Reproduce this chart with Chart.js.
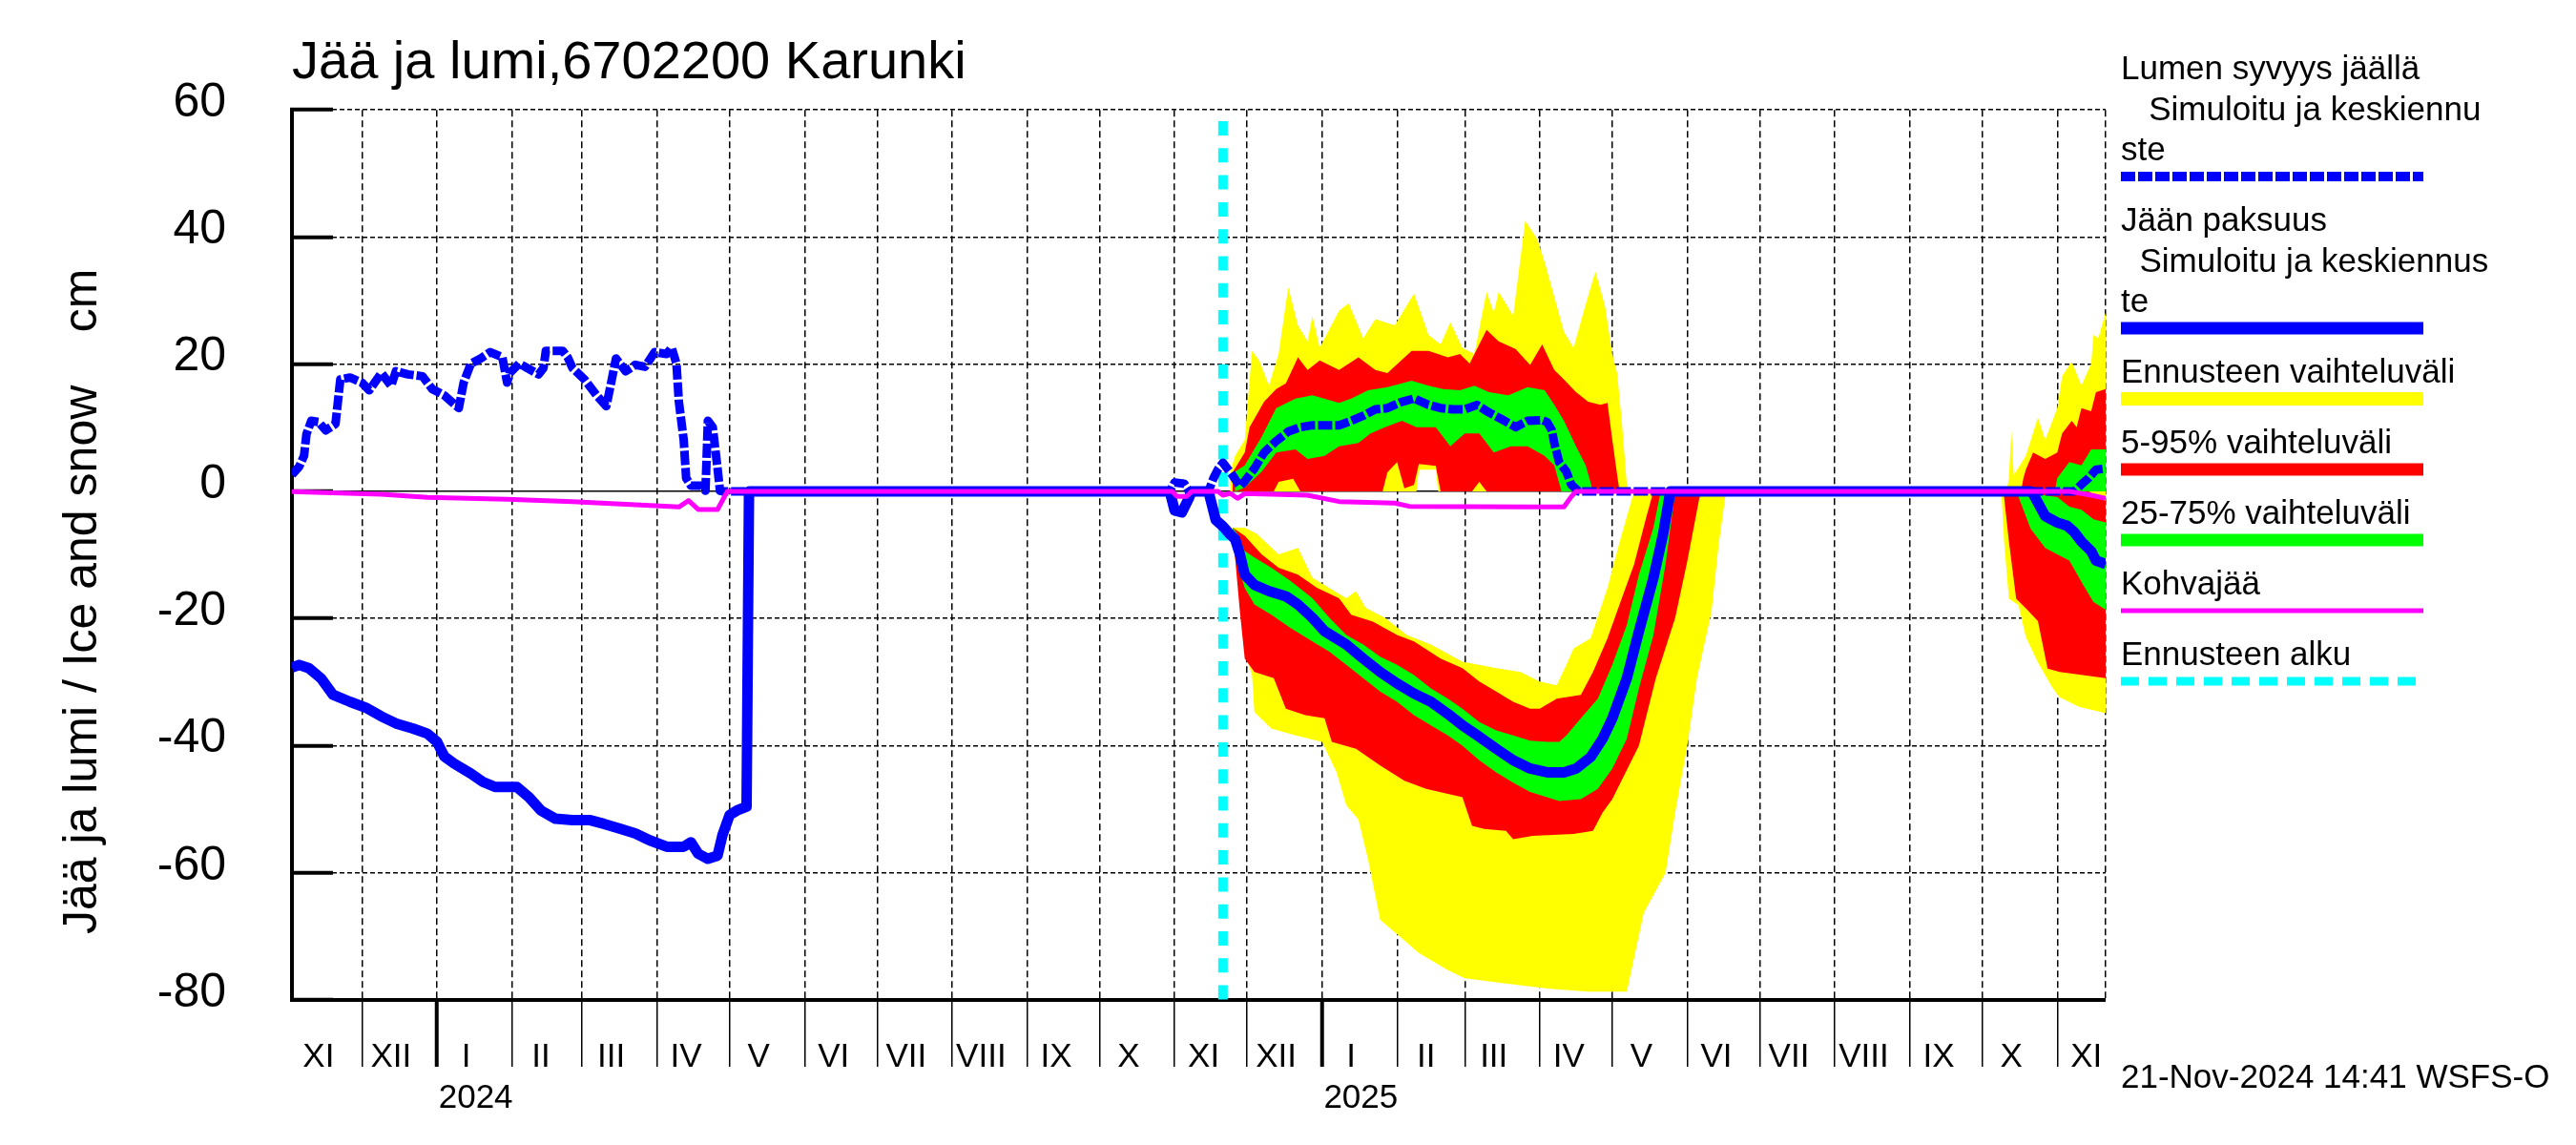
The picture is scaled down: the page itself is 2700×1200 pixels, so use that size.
<!DOCTYPE html>
<html lang="fi">
<head>
<meta charset="utf-8">
<title>Jää ja lumi, 6702200 Karunki</title>
<script src="https://cdn.jsdelivr.net/npm/chart.js@4.4.1/dist/chart.umd.min.js"></script>
<style>
html,body{margin:0;padding:0;background:#ffffff;overflow:hidden;}
#wrap{position:relative;width:2700px;height:1200px;background:#fff;}
canvas{display:block;}
</style>
</head>
<body>
<div id="wrap"><canvas id="chart" width="2700" height="1200" style="width:2700px;height:1200px"></canvas></div>
<script>
// ---------------- DATA ----------------
const titleText = 'Jää ja lumi,6702200 Karunki';
const yTitleText = 'Jää ja lumi / Ice and snow    cm';
const stampText = '21-Nov-2024 14:41 WSFS-O';
const xStart = '2023-11-02';
const xEnd = '2025-11-21';
const forecastStart = '2024-11-21';
const yTicks = [-80, -60, -40, -20, 0, 20, 40, 60];

const monthLabels = ['XI','XII','I','II','III','IV','V','VI','VII','VIII','IX','X','XI',
                     'XII','I','II','III','IV','V','VI','VII','VIII','IX','X','XI'];
const monthStarts = ['2023-11-01','2023-12-01','2024-01-01','2024-02-01','2024-03-01','2024-04-01','2024-05-01',
  '2024-06-01','2024-07-01','2024-08-01','2024-09-01','2024-10-01','2024-11-01','2024-12-01','2025-01-01',
  '2025-02-01','2025-03-01','2025-04-01','2025-05-01','2025-06-01','2025-07-01','2025-08-01','2025-09-01',
  '2025-10-01','2025-11-01'];
const yearLabels = ['2024', '2025'];
const yearLabelDates = ['2024-01-17', '2025-01-17'];

const legendTexts = [
  ['Lumen syvyys jäällä', '   Simuloitu ja keskiennu', 'ste'],
  ['Jään paksuus', '  Simuloitu ja keskiennus', 'te'],
  ['Ennusteen vaihteluväli'],
  ['5-95% vaihteluväli'],
  ['25-75% vaihteluväli'],
  ['Kohvajää'],
  ['Ennusteen alku']
];

// Snow depth on ice (simulated + median forecast)
const snowDates = ['2023-11-02','2023-11-05','2023-11-07','2023-11-08','2023-11-10','2023-11-13','2023-11-16','2023-11-20','2023-11-22','2023-11-26',
'2023-12-01','2023-12-04','2023-12-09','2023-12-13','2023-12-15','2023-12-20','2023-12-26','2023-12-30',
'2024-01-04','2024-01-10','2024-01-12','2024-01-15','2024-01-19','2024-01-23','2024-01-28','2024-01-30','2024-01-31',
'2024-02-04','2024-02-12','2024-02-14','2024-02-15','2024-02-22','2024-02-24','2024-02-26',
'2024-03-02','2024-03-07','2024-03-11','2024-03-13','2024-03-15','2024-03-19','2024-03-23','2024-03-27','2024-03-31',
'2024-04-05','2024-04-07','2024-04-09','2024-04-10','2024-04-12','2024-04-13','2024-04-15','2024-04-19','2024-04-21','2024-04-22','2024-04-24','2024-04-26','2024-04-27','2024-04-28',
'2024-10-30','2024-11-01','2024-11-05','2024-11-07','2024-11-15','2024-11-17','2024-11-19','2024-11-21','2024-11-23','2024-11-25','2024-11-28',
'2024-11-30','2024-12-04','2024-12-08','2024-12-13','2024-12-18','2024-12-23','2024-12-28',
'2025-01-02','2025-01-08','2025-01-13','2025-01-18','2025-01-23','2025-01-28',
'2025-02-03','2025-02-08','2025-02-14','2025-02-19','2025-02-24',
'2025-03-01','2025-03-06','2025-03-11','2025-03-16','2025-03-22','2025-03-27',
'2025-04-02','2025-04-04','2025-04-06','2025-04-07','2025-04-09','2025-04-12','2025-04-14','2025-04-17',
'2025-11-08','2025-11-11','2025-11-14','2025-11-17','2025-11-21'];
const snowDepth = [2.6,3.9,5.6,9.0,11.1,10.9,9.6,10.6,17.6,17.9,
17.1,15.9,18.6,16.6,18.9,18.4,18.1,16.1,
15.1,13.1,17.1,20.1,20.9,21.9,21.1,17.1,18.6,
20.1,18.4,19.4,22.1,22.1,21.1,19.4,
17.6,15.1,13.4,17.1,20.9,18.9,19.9,19.6,21.9,
21.6,22.6,20.1,14.1,8.1,2.1,0.9,0.9,0.1,11.1,10.1,3.6,0.1,0,
0,1.4,1.2,0,0,2.0,3.5,4.5,3.5,2.5,0.8,
1.6,3.6,6.1,7.9,9.4,10.1,10.4,
10.4,10.4,11.1,11.9,12.9,13.1,
14.1,14.6,13.6,13.1,12.9,
12.9,13.6,12.4,11.4,10.1,11.1,
11.2,10.9,9.6,7.6,4.6,3.1,1.1,0,
0,1.1,2.1,3.4,3.6];

// Ice thickness (plotted negative)
const iceDates = ['2023-11-02','2023-11-05','2023-11-09','2023-11-14','2023-11-19','2023-11-26',
'2023-12-03','2023-12-09','2023-12-15','2023-12-22','2023-12-28',
'2024-01-01','2024-01-04','2024-01-08','2024-01-15','2024-01-20','2024-01-25',
'2024-02-03','2024-02-08','2024-02-13','2024-02-19','2024-02-26',
'2024-03-04','2024-03-10','2024-03-17','2024-03-23','2024-03-29',
'2024-04-05','2024-04-12','2024-04-15','2024-04-18','2024-04-22','2024-04-26','2024-04-28',
'2024-05-01','2024-05-04','2024-05-08','2024-05-09',
'2024-10-30','2024-11-01','2024-11-04','2024-11-07','2024-11-08','2024-11-15','2024-11-16','2024-11-18','2024-11-21','2024-11-24','2024-11-26','2024-11-28','2024-11-30',
'2024-12-04','2024-12-10','2024-12-17','2024-12-22','2024-12-28',
'2025-01-02','2025-01-11','2025-01-18','2025-01-25',
'2025-02-01','2025-02-08','2025-02-15','2025-02-22','2025-02-28',
'2025-03-07','2025-03-14','2025-03-21','2025-03-28',
'2025-04-04','2025-04-11','2025-04-16','2025-04-22','2025-04-27',
'2025-05-01','2025-05-07','2025-05-12','2025-05-18','2025-05-22','2025-05-25',
'2025-10-21','2025-10-22','2025-10-27','2025-11-01','2025-11-05','2025-11-08','2025-11-11','2025-11-15','2025-11-17','2025-11-21'];
const iceThick = [-27.7,-27.3,-27.8,-29.4,-32.0,-33.1,
-34.1,-35.4,-36.5,-37.3,-38.1,
-39.4,-41.7,-42.8,-44.4,-45.7,-46.5,
-46.5,-48.1,-50.2,-51.5,-51.7,
-51.7,-52.3,-53.1,-53.8,-54.9,
-55.9,-55.9,-55.2,-57.0,-57.8,-57.3,-54.1,
-50.9,-50.2,-49.6,0,
0,-3.0,-3.3,-1.0,0,0,-1.5,-4.5,-5.5,-6.8,-7.5,-9.9,-13.1,
-14.7,-15.7,-16.5,-17.8,-19.9,
-22.0,-24.1,-26.3,-28.4,
-30.2,-31.8,-33.1,-35.0,-36.8,
-38.6,-40.5,-42.3,-43.6,
-44.2,-44.2,-43.6,-41.8,-38.9,
-35.7,-29.4,-22.0,-13.6,-6.7,0,
0,-0.4,-3.9,-4.9,-5.4,-6.4,-7.9,-9.4,-10.9,-11.4];

// Slush ice (Kohvajää)
const slushDates = ['2023-11-02','2023-11-22','2023-12-09','2023-12-28','2024-01-30','2024-02-26','2024-03-23','2024-04-10','2024-04-14','2024-04-18','2024-04-26','2024-04-30',
'2024-10-31','2024-11-02','2024-11-06','2024-11-08','2024-11-19','2024-11-21','2024-11-24','2024-11-27','2024-11-30','2024-12-26','2025-01-08','2025-01-31','2025-02-06','2025-03-27','2025-04-11','2025-04-14','2025-04-16',
'2025-11-06','2025-11-15','2025-11-21'];
const slushVals = [-0.05,-0.25,-0.45,-0.95,-1.25,-1.6,-2.1,-2.45,-1.45,-2.85,-2.85,0,
0,-0.8,-0.8,0,0,-0.6,-0.3,-1.1,-0.35,-0.6,-1.6,-1.85,-2.35,-2.45,-2.45,-0.85,0,
0,-0.6,-1.1];

// ---- Snow forecast bands, winter 2024-25 ----
const snowYellowTopDates = ['2024-11-24','2024-11-26','2024-11-30','2024-12-03','2024-12-06','2024-12-10','2024-12-14','2024-12-18','2024-12-22','2024-12-26','2024-12-28','2024-12-31','2025-01-08','2025-01-12','2025-01-18','2025-01-23','2025-01-31','2025-02-08','2025-02-14','2025-02-19','2025-02-23','2025-02-28','2025-03-05','2025-03-10','2025-03-13','2025-03-15','2025-03-21','2025-03-26','2025-03-31','2025-04-03','2025-04-07','2025-04-11','2025-04-15','2025-04-19','2025-04-24','2025-04-28','2025-05-01','2025-05-03','2025-05-05','2025-05-07','2025-05-08'];
const snowYellowTop = [3.0,5.6,8.1,22.1,20.6,16.6,21.6,32.1,26.1,23.6,27.6,22.6,28.4,29.6,24.1,27.1,26.1,31.1,24.6,23.1,26.6,22.6,21.6,31.4,28.1,31.4,27.6,42.6,39.6,36.1,30.6,25.1,22.6,28.1,34.6,29.1,21.6,18.6,10.6,1.1,0];
const snowYellowBotDates = ['2024-11-24','2025-02-09','2025-02-10','2025-02-17','2025-02-18','2025-05-08'];
const snowYellowBot = [0,0,3.4,3.4,0,0];
const snowRedTopDates = ['2024-11-25','2024-11-30','2024-12-02','2024-12-08','2024-12-13','2024-12-17','2024-12-22','2024-12-26','2024-12-31','2025-01-08','2025-01-16','2025-01-23','2025-01-28','2025-02-07','2025-02-14','2025-02-22','2025-02-27','2025-03-03','2025-03-10','2025-03-15','2025-03-22','2025-03-28','2025-04-02','2025-04-07','2025-04-11','2025-04-16','2025-04-21','2025-04-26','2025-04-29','2025-05-01','2025-05-03','2025-05-04'];
const snowRedTop = [3.0,6.1,10.1,14.1,16.1,17.0,21.1,19.1,20.6,19.1,21.1,19.1,18.6,22.1,22.1,21.1,21.6,20.1,25.4,23.6,22.4,19.9,23.1,19.1,17.6,15.6,14.1,13.6,13.9,8.1,2.6,0];
const snowRedBotDates = ['2024-11-25','2024-12-12','2024-12-14','2024-12-20','2024-12-23','2025-01-26','2025-01-28','2025-02-01','2025-02-04','2025-02-08','2025-02-10','2025-02-17','2025-02-19','2025-03-04','2025-03-07','2025-03-10','2025-05-04'];
const snowRedBot = [0,0,1.5,2.0,0,0,3.0,4.6,0.5,1.0,4.3,4.0,0,0,1.5,0,0];
const snowGreenTopDates = ['2024-11-26','2024-11-30','2024-12-07','2024-12-13','2024-12-21','2024-12-28','2025-01-08','2025-01-13','2025-01-20','2025-01-28','2025-02-07','2025-02-14','2025-02-20','2025-02-27','2025-03-05','2025-03-11','2025-03-19','2025-03-27','2025-04-03','2025-04-07','2025-04-11','2025-04-16','2025-04-20','2025-04-23'];
const snowGreenTop = [3.1,4.1,8.6,13.1,14.6,15.1,13.9,14.6,15.9,16.4,17.4,16.6,16.1,15.9,16.6,15.6,15.1,16.4,15.9,13.6,11.1,7.1,4.1,0];
const snowGreenBotDates = ['2024-11-26','2024-11-30','2024-12-07','2024-12-13','2024-12-21','2024-12-26','2025-01-02','2025-01-08','2025-01-16','2025-01-21','2025-01-27','2025-02-03','2025-02-09','2025-02-17','2025-02-23','2025-03-01','2025-03-07','2025-03-13','2025-03-20','2025-03-27','2025-04-03','2025-04-07','2025-04-10','2025-04-23'];
const snowGreenBot = [0,0.6,3.1,6.1,6.6,5.1,5.6,7.1,7.6,9.1,10.1,11.1,10.1,10.1,7.1,9.1,9.1,6.1,7.1,7.1,5.6,4.1,0,0];

// ---- Snow forecast bands, autumn 2025 ----
const snowYellowTop2Dates = ['2025-10-11','2025-10-12','2025-10-13','2025-10-14','2025-10-19','2025-10-24','2025-10-27','2025-11-01','2025-11-03','2025-11-07','2025-11-11','2025-11-15','2025-11-16','2025-11-18','2025-11-21'];
const snowYellowTop2 = [0,2.1,9.6,2.6,5.6,11.6,8.1,13.1,18.1,20.4,16.6,20.1,24.6,24.1,28.1];
const snowYellowBot2Dates = ['2025-10-11','2025-11-21'];
const snowYellowBot2 = [0,0];
const snowRedTop2Dates = ['2025-10-17','2025-10-18','2025-10-19','2025-10-22','2025-10-27','2025-11-01','2025-11-03','2025-11-07','2025-11-09','2025-11-11','2025-11-15','2025-11-17','2025-11-21'];
const snowRedTop2 = [0,2.1,3.4,6.1,5.1,6.1,9.1,11.1,10.1,13.1,12.6,15.6,16.1];
const snowRedBot2Dates = ['2025-10-17','2025-11-21'];
const snowRedBot2 = [0,0];
const snowGreenTop2Dates = ['2025-10-31','2025-11-01','2025-11-06','2025-11-11','2025-11-15','2025-11-21'];
const snowGreenTop2 = [0,2.1,4.6,4.1,6.6,6.6];
const snowGreenBot2Dates = ['2025-10-31','2025-11-21'];
const snowGreenBot2 = [0,0];

// ---- Ice forecast bands, winter 2024-25 (negative) ----
const iceYellowTopDates = ['2024-11-25','2024-11-30','2024-12-05','2024-12-14','2024-12-22','2024-12-28','2025-01-04','2025-01-11','2025-01-15','2025-01-19','2025-01-27','2025-02-05','2025-02-15','2025-02-28','2025-03-14','2025-03-24','2025-04-01','2025-04-08','2025-04-12','2025-04-15','2025-04-22','2025-04-29','2025-05-04','2025-05-10'];
const iceYellowTop = [-5.7,-5.7,-6.7,-9.9,-8.9,-13.6,-15.2,-16.8,-15.7,-18.3,-19.9,-22.6,-24.1,-26.8,-27.8,-28.4,-29.9,-30.5,-27.3,-24.7,-23.1,-15.2,-8.0,0];
const iceYellowBotDates = ['2024-11-25','2024-11-26','2024-11-29','2024-12-01','2024-12-03','2024-12-04','2024-12-11','2024-12-21','2025-01-01','2025-01-07','2025-01-11','2025-01-16','2025-01-20','2025-01-25','2025-02-02','2025-02-10','2025-02-22','2025-03-01','2025-03-18','2025-04-04','2025-04-21','2025-05-07','2025-05-14','2025-05-23','2025-05-27','2025-06-01','2025-06-05','2025-06-11','2025-06-14','2025-06-17'];
const iceYellowBot = [-5.7,-10.4,-19.9,-26.5,-28.9,-34.7,-37.3,-38.4,-39.4,-44.2,-49.4,-51.6,-57.9,-67.4,-70.0,-72.6,-75.3,-76.6,-77.4,-78.2,-78.7,-78.7,-66.3,-60.0,-50.5,-40.0,-29.4,-18.9,-8.3,0];
const iceRedTopDates = ['2024-11-25','2024-11-30','2024-12-07','2024-12-14','2024-12-22','2024-12-30','2025-01-08','2025-01-13','2025-01-22','2025-02-01','2025-02-08','2025-02-19','2025-02-28','2025-03-07','2025-03-14','2025-03-21','2025-03-28','2025-04-01','2025-04-08','2025-04-18','2025-04-23','2025-04-29','2025-05-04','2025-05-10','2025-05-15','2025-05-18'];
const iceRedTop = [-5.7,-7.0,-9.9,-12.0,-13.1,-15.2,-16.8,-19.4,-20.5,-22.6,-23.6,-26.3,-27.8,-29.9,-31.5,-33.1,-34.2,-34.2,-32.6,-32.0,-28.4,-23.1,-17.8,-11.5,-4.1,0];
const iceRedBotDates = ['2024-11-25','2024-11-26','2024-11-28','2024-11-30','2024-12-04','2024-12-12','2024-12-17','2024-12-25','2025-01-02','2025-01-05','2025-01-15','2025-01-25','2025-02-04','2025-02-13','2025-02-22','2025-02-28','2025-03-04','2025-03-09','2025-03-18','2025-03-21','2025-03-29','2025-04-15','2025-04-23','2025-04-27','2025-05-01','2025-05-12','2025-05-19','2025-05-27','2025-06-01','2025-06-06','2025-06-07'];
const iceRedBot = [-5.7,-10.4,-18.9,-26.3,-28.4,-29.4,-34.2,-35.2,-35.7,-39.4,-40.5,-43.1,-45.5,-46.8,-47.6,-48.1,-52.6,-53.1,-53.4,-54.7,-54.2,-53.9,-53.4,-50.5,-48.4,-40.0,-29.4,-19.9,-11.0,-1.0,0];
const iceGreenTopDates = ['2024-11-25','2024-11-27','2024-11-30','2024-12-04','2024-12-11','2024-12-19','2024-12-28','2025-01-04','2025-01-11','2025-01-18','2025-01-25','2025-02-01','2025-02-08','2025-02-15','2025-02-22','2025-02-28','2025-03-07','2025-03-14','2025-03-21','2025-03-28','2025-04-04','2025-04-09','2025-04-12','2025-04-18','2025-04-25','2025-05-01','2025-05-07','2025-05-12','2025-05-18','2025-05-21'];
const iceGreenTop = [-5.7,-6.7,-9.4,-10.4,-12.0,-14.1,-16.8,-19.9,-22.6,-24.1,-26.0,-27.3,-28.9,-31.0,-32.6,-34.2,-36.3,-37.6,-38.4,-39.2,-39.4,-39.4,-38.4,-35.7,-32.6,-27.3,-21.0,-13.1,-5.7,0];
const iceGreenBotDates = ['2024-11-25','2024-11-26','2024-11-30','2024-12-04','2024-12-11','2024-12-19','2024-12-28','2025-01-04','2025-01-11','2025-01-18','2025-01-25','2025-02-01','2025-02-08','2025-02-15','2025-02-22','2025-02-28','2025-03-07','2025-03-14','2025-03-21','2025-03-28','2025-04-04','2025-04-09','2025-04-18','2025-04-25','2025-05-01','2025-05-07','2025-05-12','2025-05-18','2025-05-23','2025-05-27'];
const iceGreenBot = [-5.7,-9.9,-15.2,-17.8,-19.4,-21.5,-23.6,-25.2,-27.3,-29.4,-31.5,-33.1,-35.2,-36.8,-38.4,-40.0,-42.3,-44.2,-45.8,-47.3,-48.1,-48.7,-48.4,-46.8,-43.6,-38.9,-31.0,-22.6,-11.5,0];

// ---- Ice forecast bands, autumn 2025 ----
const iceYellowTop2Dates = ['2025-10-09','2025-11-21'];
const iceYellowTop2 = [0,0];
const iceYellowBot2Dates = ['2025-10-09','2025-10-10','2025-10-12','2025-10-16','2025-10-19','2025-10-24','2025-10-30','2025-11-02','2025-11-10','2025-11-21'];
const iceYellowBot2 = [-0.9,-7.9,-16.9,-17.9,-22.9,-26.9,-30.9,-32.4,-33.9,-34.9];
const iceRedTop2Dates = ['2025-10-10','2025-11-14','2025-11-21'];
const iceRedTop2 = [0,0,-1.5];
const iceRedBot2Dates = ['2025-10-10','2025-10-12','2025-10-15','2025-10-19','2025-10-24','2025-10-28','2025-11-02','2025-11-21'];
const iceRedBot2 = [-0.9,-7.9,-16.9,-18.4,-20.4,-27.9,-28.4,-29.4];
const iceGreenTop2Dates = ['2025-10-16','2025-11-01','2025-11-06','2025-11-11','2025-11-16','2025-11-21'];
const iceGreenTop2 = [0,-0.9,-2.4,-2.9,-4.4,-4.9];
const iceGreenBot2Dates = ['2025-10-16','2025-10-21','2025-10-27','2025-11-01','2025-11-06','2025-11-12','2025-11-16','2025-11-21'];
const iceGreenBot2 = [-0.9,-5.9,-8.9,-9.9,-10.9,-14.9,-17.4,-18.6];

// ---------------- HELPERS ----------------
const FONT = "'Liberation Sans', Arial, Helvetica, sans-serif";
const BLUE = '#0000ff', YELLOW = '#ffff00', RED = '#ff0000', GREEN = '#00ff00', MAGENTA = '#ff00ff', CYAN = '#00ffff';
const day = s => Date.UTC(+s.slice(0, 4), +s.slice(5, 7) - 1, +s.slice(8, 10)) / 864e5;
const pts = (dates, vals) => dates.map((s, i) => ({x: day(s), y: vals[i]}));
const poly = (tD, tV, bD, bV) => pts(tD, tV).concat(pts(bD, bV).reverse());
const X0 = day(xStart), X1 = day(xEnd);

const band = (label, data, color, order) => ({
  label, data, order, fill: 'shape', backgroundColor: color, borderColor: color,
  borderWidth: 0, pointRadius: 0, tension: 0
});

// x ticks: month boundaries (grid + tick marks), month labels on the 13th, year labels
const xTicks = [];
monthStarts.forEach((s, i) => {
  const v = day(s);
  if (v > X0) xTicks.push({value: v, label: '', kind: s.slice(5) === '01-01' ? 'year' : 'month'});
  xTicks.push({value: v + 12, label: monthLabels[i], kind: 'label'});
});
yearLabelDates.forEach((s, i) => xTicks.push({value: day(s), label: ['', yearLabels[i]], kind: 'label'}));
xTicks.push({value: X1, label: '', kind: 'end'});
xTicks.sort((a, b) => a.value - b.value);
const kindAt = i => (xTicks[i] ? xTicks[i].kind : 'label');

const datasets = [
  {label: 'Kohvajää', data: pts(slushDates, slushVals), order: 0, borderColor: MAGENTA, borderWidth: 5,
   pointRadius: 0, fill: false, tension: 0, borderJoinStyle: 'round'},
  {label: 'Jään paksuus', data: pts(iceDates, iceThick), order: 1, borderColor: BLUE, borderWidth: 11,
   pointRadius: 0, fill: false, tension: 0, borderJoinStyle: 'round'},
  {label: 'Lumen syvyys jäällä', data: pts(snowDates, snowDepth), order: 2, borderColor: BLUE, borderWidth: 9,
   borderDash: [15, 3], pointRadius: 0, fill: false, tension: 0, borderJoinStyle: 'round'},
  {label: 'Ennusteen alku', data: [{x: day(forecastStart), y: yTicks[yTicks.length - 1]}, {x: day(forecastStart), y: yTicks[0]}],
   order: 3, borderColor: CYAN, borderWidth: 10, borderDash: [15, 13.3], borderDashOffset: 16.5,
   pointRadius: 0, fill: false},
  band('25-75% lumi', poly(snowGreenTopDates, snowGreenTop, snowGreenBotDates, snowGreenBot), GREEN, 4),
  band('25-75% lumi 2', poly(snowGreenTop2Dates, snowGreenTop2, snowGreenBot2Dates, snowGreenBot2), GREEN, 4),
  band('25-75% jää', poly(iceGreenTopDates, iceGreenTop, iceGreenBotDates, iceGreenBot), GREEN, 4),
  band('25-75% jää 2', poly(iceGreenTop2Dates, iceGreenTop2, iceGreenBot2Dates, iceGreenBot2), GREEN, 4),
  band('5-95% lumi', poly(snowRedTopDates, snowRedTop, snowRedBotDates, snowRedBot), RED, 5),
  band('5-95% lumi 2', poly(snowRedTop2Dates, snowRedTop2, snowRedBot2Dates, snowRedBot2), RED, 5),
  band('5-95% jää', poly(iceRedTopDates, iceRedTop, iceRedBotDates, iceRedBot), RED, 5),
  band('5-95% jää 2', poly(iceRedTop2Dates, iceRedTop2, iceRedBot2Dates, iceRedBot2), RED, 5),
  band('Vaihteluväli lumi', poly(snowYellowTopDates, snowYellowTop, snowYellowBotDates, snowYellowBot), YELLOW, 6),
  band('Vaihteluväli lumi 2', poly(snowYellowTop2Dates, snowYellowTop2, snowYellowBot2Dates, snowYellowBot2), YELLOW, 6),
  band('Vaihteluväli jää', poly(iceYellowTopDates, iceYellowTop, iceYellowBotDates, iceYellowBot), YELLOW, 6),
  band('Vaihteluväli jää 2', poly(iceYellowTop2Dates, iceYellowTop2, iceYellowBot2Dates, iceYellowBot2), YELLOW, 6)
];

const legendStyles = [
  {color: BLUE, width: 10, dash: [15, 3]},
  {color: BLUE, width: 13, dash: []},
  {color: YELLOW, width: 14, dash: []},
  {color: RED, width: 13, dash: []},
  {color: GREEN, width: 13, dash: []},
  {color: MAGENTA, width: 5, dash: []},
  {color: CYAN, width: 9, dash: [19, 10]}
];

const sidePlugin = {
  id: 'sideDecor',
  afterDraw(chart) {
    const ctx = chart.ctx;
    const LX = 2223, LX2 = 2540;
    ctx.save();
    ctx.fillStyle = '#000';
    ctx.textAlign = 'left';
    ctx.textBaseline = 'alphabetic';
    ctx.font = '35px ' + FONT;
    let y = 83;
    legendTexts.forEach((lines, k) => {
      lines.forEach((t, j) => {
        ctx.fillText(t, LX, y);
        if (j < lines.length - 1) y += 42.5;
      });
      const sy = y + 17;
      const st = legendStyles[k];
      ctx.beginPath();
      ctx.strokeStyle = st.color;
      ctx.lineWidth = st.width;
      ctx.lineCap = 'butt';
      ctx.setLineDash(st.dash);
      ctx.moveTo(LX, sy);
      ctx.lineTo(LX2, sy);
      ctx.stroke();
      y = sy + 57;
    });
    ctx.setLineDash([]);
    ctx.fillText(stampText, LX, 1140);
    ctx.restore();

    // y-axis title, rotated
    ctx.save();
    ctx.fillStyle = '#000';
    ctx.font = '50px ' + FONT;
    ctx.translate(101, 979);
    ctx.rotate(-Math.PI / 2);
    ctx.textAlign = 'left';
    ctx.textBaseline = 'alphabetic';
    ctx.fillText(yTitleText, 0, 0);
    ctx.restore();
  }
};

Chart.defaults.font.family = FONT;
Chart.defaults.color = '#000';

new Chart(document.getElementById('chart'), {
  type: 'line',
  data: {datasets},
  options: {
    responsive: false,
    maintainAspectRatio: false,
    devicePixelRatio: 1,
    animation: false,
    events: [],
    layout: {padding: {left: 0, right: 493, top: 0, bottom: 0}},
    plugins: {
      legend: {display: false},
      tooltip: {enabled: false},
      title: {
        display: true, text: titleText, align: 'start', fullSize: false, color: '#000',
        font: {size: 56, weight: 'normal', family: FONT, lineHeight: 1.2},
        padding: {top: 33, bottom: 15}
      }
    },
    scales: {
      x: {
        type: 'linear', position: 'bottom', min: X0, max: X1,
        afterBuildTicks: s => { s.ticks = xTicks.map(t => ({value: t.value})); },
        afterFit: s => { s.height = 152; s.paddingLeft = 0; s.paddingRight = 0; },
        ticks: {
          autoSkip: false, maxRotation: 0, minRotation: 0, padding: -32, color: '#000',
          font: {size: 35, family: FONT, lineHeight: 1.25},
          callback: (v, i) => xTicks[i] ? xTicks[i].label : ''
        },
        grid: {
          drawOnChartArea: true, drawTicks: true, tickLength: 70,
          color: '#000',
          lineWidth: c => (['month', 'year', 'end'].includes(kindAt(c.index)) ? 1.5 : 0),
          tickColor: '#000',
          tickWidth: c => (kindAt(c.index) === 'year' ? 4 : (kindAt(c.index) === 'month' ? 1.5 : 0))
        },
        border: {display: true, color: '#000', width: 4, dash: [7, 4]}
      },
      y: {
        type: 'linear', position: 'left', min: yTicks[0], max: yTicks[yTicks.length - 1],
        afterBuildTicks: s => { s.ticks = yTicks.map(v => ({value: v})); },
        afterFit: s => { s.width = 306; s.paddingTop = 0; s.paddingBottom = 0; },
        ticks: {
          padding: 112, labelOffset: -7, color: '#000',
          font: {size: 50, family: FONT},
          callback: v => String(v)
        },
        grid: {
          drawOnChartArea: true, drawTicks: true, tickLength: -43,
          color: '#000', lineWidth: 1.5, tickColor: '#000', tickWidth: 4
        },
        border: {display: true, color: '#000', width: 4,
          dash: c => (c.tick && c.tick.value === 0 ? [] : [5, 3])}
      }
    }
  },
  plugins: [sidePlugin]
});
</script>
</body>
</html>
